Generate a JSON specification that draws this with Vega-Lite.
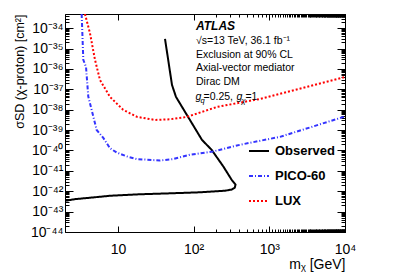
{
  "$schema": "https://vega.github.io/schema/vega-lite/v6.json",
  "width": 280,
  "height": 218,
  "autosize": {"type": "none"},
  "padding": {"left": 65, "top": 14, "right": 62, "bottom": 45},
  "background": "white",
  "config": {
    "font": "Liberation Sans",
    "view": {"stroke": "black", "strokeWidth": 1},
    "axis": {"grid": false, "domain": false, "tickColor": "black", "labelColor": "black", "titleColor": "black", "labelFont": "Liberation Sans", "titleFont": "Liberation Sans", "labelFontSize": 14, "titleFontSize": 14, "titleFontWeight": "normal", "tickWidth": 1, "labelFlush": false, "labelOverlap": false}
  },
  "datasets": {
    "curves": [
      {"series": "Observed", "i": 1, "mx": 41.9, "sig": 3.0e-35},
      {"series": "Observed", "i": 2, "mx": 46.6, "sig": 2.23e-36},
      {"series": "Observed", "i": 3, "mx": 51.8, "sig": 1.66e-37},
      {"series": "Observed", "i": 4, "mx": 58.5, "sig": 4.27e-38},
      {"series": "Observed", "i": 5, "mx": 129, "sig": 3.31e-40},
      {"series": "Observed", "i": 6, "mx": 173, "sig": 1.08e-40},
      {"series": "Observed", "i": 7, "mx": 247, "sig": 1.64e-41},
      {"series": "Observed", "i": 8, "mx": 318, "sig": 3.66e-42},
      {"series": "Observed", "i": 9, "mx": 358, "sig": 2.1e-42},
      {"series": "Observed", "i": 10, "mx": 350, "sig": 1.5e-42},
      {"series": "Observed", "i": 11, "mx": 320, "sig": 1.22e-42},
      {"series": "Observed", "i": 12, "mx": 260, "sig": 1.06e-42},
      {"series": "Observed", "i": 13, "mx": 122, "sig": 8.9e-43},
      {"series": "Observed", "i": 14, "mx": 48.8, "sig": 7.9e-43},
      {"series": "Observed", "i": 15, "mx": 19.6, "sig": 7.1e-43},
      {"series": "Observed", "i": 16, "mx": 7.86, "sig": 6.0e-43},
      {"series": "Observed", "i": 17, "mx": 4.27, "sig": 4.8e-43},
      {"series": "Observed", "i": 18, "mx": 2.71, "sig": 4.1e-43},
      {"series": "Observed", "i": 19, "mx": 2, "sig": 3.4e-43},
      {"series": "PICO-60", "i": 1, "mx": 3.32, "sig": 5e-34},
      {"series": "PICO-60", "i": 2, "mx": 3.49, "sig": 2.82e-36},
      {"series": "PICO-60", "i": 3, "mx": 3.79, "sig": 1.26e-36},
      {"series": "PICO-60", "i": 4, "mx": 4.06, "sig": 4.47e-38},
      {"series": "PICO-60", "i": 5, "mx": 4.73, "sig": 4.68e-39},
      {"series": "PICO-60", "i": 6, "mx": 5.24, "sig": 1.02e-39},
      {"series": "PICO-60", "i": 7, "mx": 6.41, "sig": 4.17e-40},
      {"series": "PICO-60", "i": 8, "mx": 7.86, "sig": 1.29e-40},
      {"series": "PICO-60", "i": 9, "mx": 9.63, "sig": 7.94e-41},
      {"series": "PICO-60", "i": 10, "mx": 13.1, "sig": 5.13e-41},
      {"series": "PICO-60", "i": 11, "mx": 17.7, "sig": 3.8e-41},
      {"series": "PICO-60", "i": 12, "mx": 36, "sig": 3.24e-41},
      {"series": "PICO-60", "i": 13, "mx": 54, "sig": 3.8e-41},
      {"series": "PICO-60", "i": 14, "mx": 89.5, "sig": 6.17e-41},
      {"series": "PICO-60", "i": 15, "mx": 180, "sig": 8.91e-41},
      {"series": "PICO-60", "i": 16, "mx": 410, "sig": 1.91e-40},
      {"series": "PICO-60", "i": 17, "mx": 1384, "sig": 4.68e-40},
      {"series": "PICO-60", "i": 18, "mx": 10000, "sig": 4.68e-39},
      {"series": "LUX", "i": 1, "mx": 3.67, "sig": 5e-34},
      {"series": "LUX", "i": 2, "mx": 4.27, "sig": 5.89e-35},
      {"series": "LUX", "i": 3, "mx": 4.98, "sig": 2.82e-36},
      {"series": "LUX", "i": 4, "mx": 5.8, "sig": 2.88e-37},
      {"series": "LUX", "i": 5, "mx": 7.86, "sig": 4.27e-38},
      {"series": "LUX", "i": 6, "mx": 11.7, "sig": 1.0e-38},
      {"series": "LUX", "i": 7, "mx": 17.9, "sig": 4.47e-39},
      {"series": "LUX", "i": 8, "mx": 30.9, "sig": 3.16e-39},
      {"series": "LUX", "i": 9, "mx": 48.8, "sig": 3.39e-39},
      {"series": "LUX", "i": 10, "mx": 81.8, "sig": 4.47e-39},
      {"series": "LUX", "i": 11, "mx": 204, "sig": 1.38e-38},
      {"series": "LUX", "i": 12, "mx": 754, "sig": 3.39e-38},
      {"series": "LUX", "i": 13, "mx": 10000, "sig": 4.07e-37}
    ]
  },
  "resolve": {"axis": {"x": "independent", "y": "independent"}},
  "layer": [
    {
      "data": {"name": "curves"},
      "mark": {"type": "line", "strokeWidth": 2, "clip": true},
      "encoding": {
        "x": {"field": "mx", "type": "quantitative", "scale": {"type": "log", "domain": [2, 10000], "nice": false},
          "axis": {"orient": "bottom", "values": [10, 100, 1000, 10000], "tickSize": -6, "labelPadding": 16,
            "labelExpr": "datum.value < 50 ? '10' : datum.value < 500 ? '10²' : datum.value < 5000 ? '10³' : '10⁴'",
            "title": "mᵪ [GeV]", "titleAnchor": "end", "titlePadding": 1}},
        "y": {"field": "sig", "type": "quantitative", "scale": {"type": "log", "domain": [1e-44, 5e-34], "nice": false},
          "axis": {"orient": "left", "values": [1e-44, 1e-43, 1e-42, 1e-41, 1e-40, 1e-39, 1e-38, 1e-37, 1e-36, 1e-35, 1e-34], "tickSize": -8, "labelPadding": 10,
            "labelExpr": "'10⁻' + replace(replace(replace(replace(replace(replace(replace(replace(replace(replace('' + round(-log(datum.value)/LN10), regexp('0','g'), '⁰'), regexp('1','g'), '¹'), regexp('2','g'), '²'), regexp('3','g'), '³'), regexp('4','g'), '⁴'), regexp('5','g'), '⁵'), regexp('6','g'), '⁶'), regexp('7','g'), '⁷'), regexp('8','g'), '⁸'), regexp('9','g'), '⁹')",
            "title": "σSD (χ-proton) [cm²]", "titleAnchor": "end", "titleFontSize": 12.5, "titleX": -39, "titleBaseline": "bottom"}},
        "color": {"field": "series", "type": "nominal", "scale": {"domain": ["Observed", "PICO-60", "LUX"], "range": ["#000000", "#3333ff", "#ff0000"]},
          "legend": {"title": null, "orient": "none", "legendX": 183, "legendY": 126, "labelFont": "Liberation Sans", "labelFontSize": 13, "labelFontWeight": "bold", "labelColor": "black", "symbolType": "stroke", "symbolSize": 400, "symbolStrokeWidth": 2, "rowPadding": 7, "labelOffset": 5}},
        "strokeDash": {"field": "series", "type": "nominal", "scale": {"domain": ["Observed", "PICO-60", "LUX"], "range": [[1, 0], [4, 2, 1, 2], [2, 2]]},
          "legend": {"title": null, "orient": "none", "legendX": 183, "legendY": 126, "labelFont": "Liberation Sans", "labelFontSize": 13, "labelFontWeight": "bold", "labelColor": "black", "symbolType": "stroke", "symbolSize": 400, "symbolStrokeWidth": 2, "rowPadding": 7, "labelOffset": 5}},
        "order": {"field": "i", "type": "quantitative"}
      }
    },
    {
      "data": {"values": [{"mx": 107.5, "sig": 8.26e-35, "label": "ATLAS"}]},
      "mark": {"type": "text", "font": "Liberation Sans", "fontSize": 12, "fontWeight": "bold", "fontStyle": "italic", "align": "left", "baseline": "alphabetic", "color": "black"},
      "encoding": {
        "x": {"field": "mx", "type": "quantitative", "scale": {"type": "log", "domain": [2, 10000], "nice": false},
          "axis": {"orient": "bottom", "tickCount": 100, "labels": false, "tickSize": -3, "title": null}},
        "y": {"field": "sig", "type": "quantitative", "scale": {"type": "log", "domain": [1e-44, 5e-34], "nice": false},
          "axis": {"orient": "left", "tickCount": 100, "labels": false, "tickSize": -4, "title": null}},
        "text": {"field": "label"}
      }
    },
    {
      "data": {"values": [
        {"mx": 107.5, "sig": 1.61e-35, "label": "√s=13 TeV, 36.1 fb⁻¹"},
        {"mx": 107.5, "sig": 3.5e-36, "label": "Exclusion at 90% CL"},
        {"mx": 107.5, "sig": 7.62e-37, "label": "Axial-vector mediator"},
        {"mx": 107.5, "sig": 1.57e-37, "label": "Dirac DM"},
        {"mx": 135.1, "sig": 3.05e-38, "label": "=0.25,"},
        {"mx": 484.6, "sig": 3.05e-38, "label": "=1"}
      ]},
      "mark": {"type": "text", "font": "Liberation Sans", "fontSize": 10.5, "align": "left", "baseline": "alphabetic", "color": "black"},
      "encoding": {
        "x": {"field": "mx", "type": "quantitative", "scale": {"type": "log", "domain": [2, 10000], "nice": false},
          "axis": {"orient": "top", "values": [10, 100, 1000, 10000], "labels": false, "tickSize": -6, "title": null}},
        "y": {"field": "sig", "type": "quantitative", "scale": {"type": "log", "domain": [1e-44, 5e-34], "nice": false},
          "axis": {"orient": "right", "values": [1e-44, 1e-43, 1e-42, 1e-41, 1e-40, 1e-39, 1e-38, 1e-37, 1e-36, 1e-35, 1e-34], "labels": false, "tickSize": -8, "title": null}},
        "text": {"field": "label"}
      }
    },
    {
      "data": {"values": [
        {"mx": 105.9, "sig": 3.05e-38, "label": "g"},
        {"mx": 368.6, "sig": 3.05e-38, "label": "g"}
      ]},
      "mark": {"type": "text", "font": "Liberation Sans", "fontSize": 10.5, "fontStyle": "italic", "align": "left", "baseline": "alphabetic", "color": "black"},
      "encoding": {
        "x": {"field": "mx", "type": "quantitative", "scale": {"type": "log", "domain": [2, 10000], "nice": false},
          "axis": {"orient": "top", "tickCount": 100, "labels": false, "tickSize": -3, "title": null}},
        "y": {"field": "sig", "type": "quantitative", "scale": {"type": "log", "domain": [1e-44, 5e-34], "nice": false},
          "axis": {"orient": "right", "tickCount": 100, "labels": false, "tickSize": -4, "title": null}},
        "text": {"field": "label"}
      }
    },
    {
      "data": {"values": [
        {"mx": 123.3, "sig": 3.05e-38, "label": "q"},
        {"mx": 429.1, "sig": 3.05e-38, "label": "χ"}
      ]},
      "mark": {"type": "text", "font": "Liberation Sans", "fontSize": 7.5, "fontStyle": "italic", "align": "left", "baseline": "alphabetic", "dy": 3, "color": "black"},
      "encoding": {
        "x": {"field": "mx", "type": "quantitative", "scale": {"type": "log", "domain": [2, 10000], "nice": false}, "axis": null},
        "y": {"field": "sig", "type": "quantitative", "scale": {"type": "log", "domain": [1e-44, 5e-34], "nice": false}, "axis": null},
        "text": {"field": "label"}
      }
    }
  ]
}
